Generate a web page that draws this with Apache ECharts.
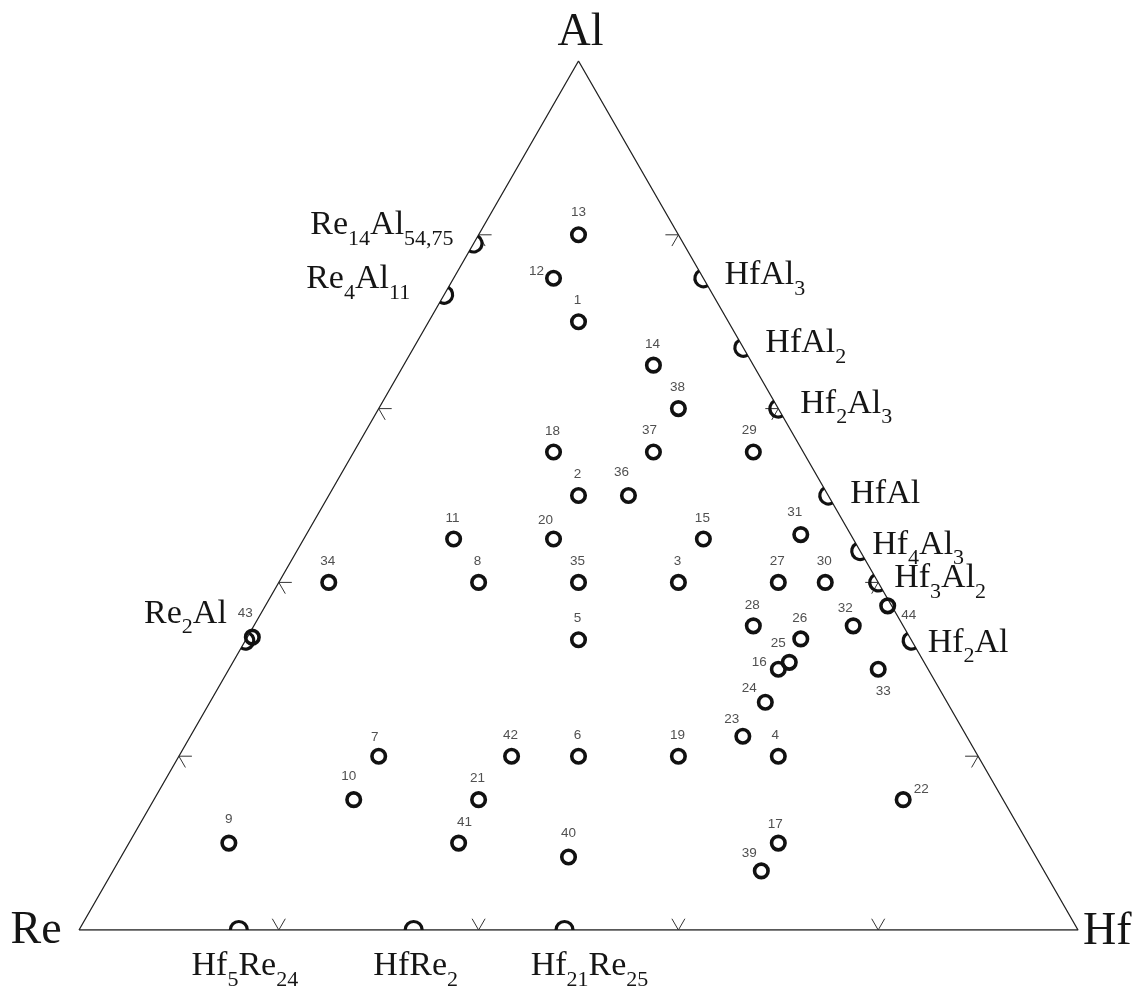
<!DOCTYPE html>
<html>
<head>
<meta charset="utf-8">
<script src="https://cdn.jsdelivr.net/npm/echarts@6/dist/echarts.min.js"></script>
<style>
  html, body { margin: 0; padding: 0; background: #fff; }
  #chart { width: 1147px; height: 993px; }
</style>
</head>
<body>
<div id="chart"></div>
<script>
// Re–Hf–Al ternary diagram (at.%): alloy compositions and binary phases on the edges

const vertexNames = ['Re', 'Hf', 'Al'];

// Alloy samples
const sampleIds = [1, 2, 3, 4, 5, 6, 7, 8, 9, 10, 11, 12, 13, 14, 15, 16, 17, 18, 19, 20, 21, 22,
  23, 24, 25, 26, 27, 28, 29, 30, 31, 32, 33, 34, 35, 36, 37, 38, 39, 40, 41, 42, 43, 44];
const sampleRe = [15, 25, 20, 20, 33.3, 40, 60, 40, 80, 65, 40, 15, 10, 10, 15, 15, 25, 25, 30, 30, 52.5, 10,
  22.4, 18.2, 13.5, 11, 10, 15, 5, 5.3, 5, 5, 5, 55, 30, 20, 15, 10, 28.3, 46.8, 57, 46.7, 65.8, 0.4];
const sampleHf = [15, 25, 40, 60, 33.3, 40, 20, 20, 10, 20, 15, 10, 10, 25, 40, 55, 65, 20, 50, 25, 32.5, 75,
  55.3, 55.6, 55.7, 55.5, 50, 50, 40, 54.7, 49.5, 60, 65, 5, 30, 30, 30, 30, 64.9, 44.8, 33, 33.3, 0.5, 62.3];
const sampleAl = [70, 50, 40, 20, 33.4, 20, 20, 40, 10, 15, 45, 75, 80, 65, 45, 30, 10, 55, 20, 45, 15, 15,
  22.3, 26.2, 30.8, 33.5, 40, 35, 55, 40, 45.5, 35, 30, 40, 40, 50, 55, 60, 6.8, 8.4, 10, 20, 33.7, 37.3];

// Binary phases
const phaseNames = ['Re14Al54,75', 'Re4Al11', 'Re2Al', 'HfAl3', 'HfAl2', 'Hf2Al3', 'HfAl', 'Hf4Al3',
  'Hf3Al2', 'Hf2Al', 'Hf5Re24', 'HfRe2', 'Hf21Re25'];
const phaseRe = [21, 26.9, 66.7, 0, 0, 0, 0, 0, 0, 0, 84, 66.5, 51.4];
const phaseHf = [0, 0, 0, 25, 33, 40, 50, 56.4, 60, 66.7, 16, 33.5, 48.6];
const phaseAl = [79, 73.1, 33.3, 75, 67, 60, 50, 43.6, 40, 33.3, 0, 0, 0];

// Edge tick marks (at.% along each side)
const edgeTicks = [20, 40, 60, 80];

// ---------- geometry helpers ----------
const H3 = Math.sqrt(3) / 2;
function toXY(re, hf, al) {
  const s = re + hf + al;
  return [(hf + al / 2) / s, (al / s) * H3];
}
// screen angle (deg, y down) of the inward normal of the edge a composition lies on
function inwardAngle(re, hf, al) {
  if (al === 0) return -90;   // Re–Hf base
  if (re === 0) return 150;   // Hf–Al side
  return 30;                  // Re–Al side
}

// ---------- layout (label offsets in px) ----------
const sampleLabelOffset = {
  12: [-17, -7], 16: [-19, -7], 22: [18, -10], 25: [-11, -19], 24: [-16, -14], 23: [-11, -17],
  33: [5, 22], 39: [-12, -18], 43: [-7, -24], 44: [21, 9], 20: [-8, -19], 36: [-7, -23],
  41: [6, -21], 31: [-6, -22], 32: [-8, -18], 40: [0, -24], 9: [0, -24], 10: [-5, -23], 13: [0, -23],
  7: [-4, -19], 17: [-3, -19], 4: [-3, -21], 37: [-4, -22], 29: [-4, -22]
};
const phaseLabelLayout = {
  'Re14Al54,75': [-20, -40, 'right'],
  'Re4Al11': [-34, -37.5, 'right'],
  'Re2Al': [-18.5, -49, 'right'],
  'HfAl3': [21, -25, 'left'],
  'HfAl2': [22, -26.5, 'left'],
  'Hf2Al3': [22, -27, 'left'],
  'HfAl': [22, -23, 'left'],
  'Hf4Al3': [12, -28.5, 'left'],
  'Hf3Al2': [16, -26, 'left'],
  'Hf2Al': [16, -20, 'left'],
  'Hf5Re24': [6, 14.5, 'center'],
  'HfRe2': [2, 14.5, 'center'],
  'Hf21Re25': [25, 14.5, 'center']
};
// [dx, dy of text middle, align]
const vertexLabelLayout = { Re: [-43, 1, 'center'], Hf: [5, 2, 'left'], Al: [2, -28, 'center'] };

const SERIF = 'Liberation Serif';
const INK = '#151515';

function richFormula(name) {
  return name.replace(/([A-Za-z]+)|([0-9.,]+)/g, function (m, letters, digits) {
    return letters ? '{m|' + letters + '}' : '{s|' + digits + '}';
  });
}
const formulaRich = {
  m: { fontFamily: SERIF, fontSize: 34, lineHeight: 44, color: INK, verticalAlign: 'middle' },
  s: { fontFamily: SERIF, fontSize: 22, height: 16, color: INK, verticalAlign: 'bottom' }
};

// ---------- series data ----------
const frameData = [toXY(100, 0, 0), toXY(0, 100, 0), toXY(0, 0, 100), toXY(100, 0, 0)];

const vertexData = vertexNames.map(function (n) {
  const c = { Re: [100, 0, 0], Hf: [0, 100, 0], Al: [0, 0, 100] }[n];
  return toXY(c[0], c[1], c[2]);
});

const tickData = [];
edgeTicks.forEach(function (t) {
  tickData.push(toXY(100 - t, t, 0).concat(inwardAngle(100 - t, t, 0)));   // base
  tickData.push(toXY(0, 100 - t, t).concat(inwardAngle(0, 100 - t, t)));   // Hf–Al side
  tickData.push(toXY(100 - t, 0, t).concat(inwardAngle(100 - t, 0, t)));   // Re–Al side
});

const phaseData = phaseNames.map(function (n, i) {
  return toXY(phaseRe[i], phaseHf[i], phaseAl[i]).concat(inwardAngle(phaseRe[i], phaseHf[i], phaseAl[i]));
});

const sampleData = sampleIds.map(function (id, i) {
  return {
    name: String(id),
    value: toXY(sampleRe[i], sampleHf[i], sampleAl[i]),
    label: { offset: sampleLabelOffset[id] || [-1, -21] }
  };
});

// ---------- chart ----------
const chart = echarts.init(document.getElementById('chart'), null, { renderer: 'canvas' });
chart.setOption({
  animation: false,
  backgroundColor: '#fff',
  grid: { left: 79, top: 61, width: 999, height: 869 },
  xAxis: { type: 'value', min: 0, max: 1, show: false },
  yAxis: { type: 'value', min: 0, max: H3, show: false },
  series: [
    {
      type: 'line', data: frameData, symbol: 'none', silent: true, z: 1,
      lineStyle: { color: '#222', width: 1.3 }
    },
    {
      type: 'custom', data: tickData, silent: true, z: 2,
      encode: { x: 0, y: 1 },
      renderItem: function (params, api) {
        const p = api.coord([api.value(0), api.value(1)]);
        const phi = api.value(2) * Math.PI / 180;
        const L = 13;
        const a1 = phi - Math.PI / 6, a2 = phi + Math.PI / 6;
        return {
          type: 'polyline',
          shape: { points: [
            [p[0] + L * Math.cos(a1), p[1] + L * Math.sin(a1)],
            [p[0], p[1]],
            [p[0] + L * Math.cos(a2), p[1] + L * Math.sin(a2)]
          ] },
          style: { stroke: '#333', lineWidth: 1, fill: null }
        };
      }
    },
    {
      type: 'custom', data: phaseData, silent: true, z: 4,
      encode: { x: 0, y: 1 },
      renderItem: function (params, api) {
        const i = params.dataIndex;
        const name = phaseNames[i];
        const p = api.coord([api.value(0), api.value(1)]);
        const phi = api.value(2) * Math.PI / 180;
        const lay = phaseLabelLayout[name];
        return {
          type: 'group',
          children: [
            {
              type: 'arc',
              shape: { cx: p[0], cy: p[1], r: 8.5, startAngle: phi - Math.PI / 2, endAngle: phi + Math.PI / 2, clockwise: true },
              style: { stroke: '#111', lineWidth: 3.2, fill: null }
            },
            {
              type: 'text',
              x: p[0] + lay[0],
              y: p[1] + lay[1],
              style: {
                text: richFormula(name),
                rich: formulaRich,
                fontFamily: SERIF, fontSize: 34,
                align: lay[2], verticalAlign: 'top',
                fill: INK
              }
            }
          ]
        };
      }
    },
    {
      type: 'scatter', data: sampleData, z: 5, silent: true,
      symbol: 'circle', symbolSize: 13.5,
      itemStyle: { color: 'rgba(0,0,0,0)', borderColor: '#111', borderWidth: 3.6, opacity: 1 },
      label: {
        show: true, position: 'inside', formatter: '{b}',
        fontFamily: 'Liberation Sans', fontSize: 13.5, color: '#505050'
      }
    },
    {
      type: 'custom', data: vertexData, silent: true, z: 6,
      encode: { x: 0, y: 1 },
      renderItem: function (params, api) {
        const name = vertexNames[params.dataIndex];
        const p = api.coord([api.value(0), api.value(1)]);
        const lay = vertexLabelLayout[name];
        return {
          type: 'text',
          x: p[0] + lay[0],
          y: p[1] + lay[1],
          style: {
            text: name, fontFamily: SERIF, fontSize: 46,
            align: lay[2], verticalAlign: 'middle', fill: INK
          }
        };
      }
    }
  ]
});
</script>
</body>
</html>
